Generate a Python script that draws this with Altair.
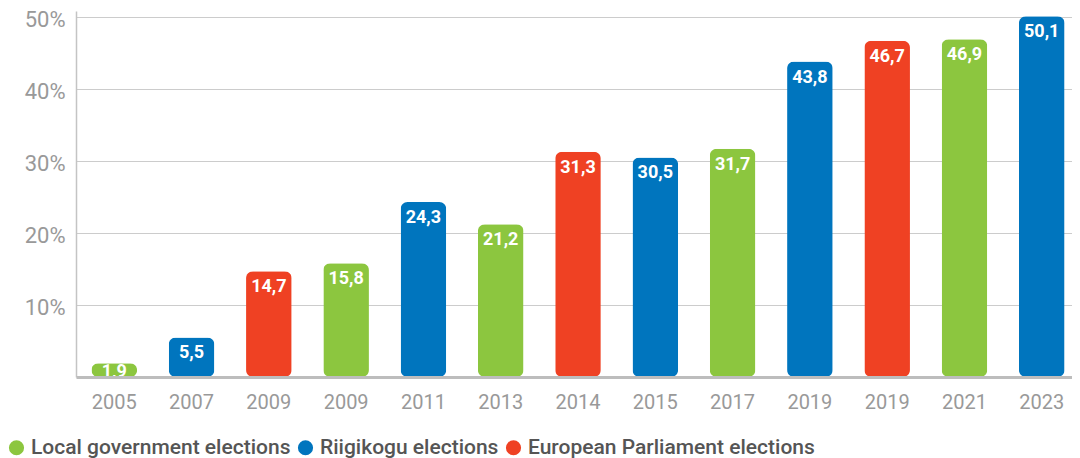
import altair as alt
import pandas as pd

years = ["2005", "2007", "2009", "2009", "2011", "2013", "2014", "2015", "2017", "2019", "2019", "2021", "2023"]
values = [1.9, 5.5, 14.7, 15.8, 24.3, 21.2, 31.3, 30.5, 31.7, 43.8, 46.7, 46.9, 50.1]
types = ["Local government elections", "Riigikogu elections", "European Parliament elections",
         "Local government elections", "Riigikogu elections", "Local government elections",
         "European Parliament elections", "Riigikogu elections", "Local government elections",
         "Riigikogu elections", "European Parliament elections", "Local government elections",
         "Riigikogu elections"]
type_order = ["Local government elections", "Riigikogu elections", "European Parliament elections"]
type_colors = ["#8CC63F", "#0075BE", "#EF4123"]
y_ticks = [10, 20, 30, 40, 50]

df = pd.DataFrame({
    "idx": list(range(len(years))),
    "year": years,
    "value": values,
    "type": types,
    "label": [f"{v}".replace(".", ",") for v in values],
})

label_expr = "[" + ",".join(f"'{y}'" for y in years) + "][datum.value]"

x_enc = alt.X("idx:O", sort=None,
              scale=alt.Scale(paddingInner=0.41, paddingOuter=0.2, range=[0, 1004]),
              axis=alt.Axis(title=None, labelExpr=label_expr, labelAngle=0, labelFont="Roboto",
                            labelFontSize=20, labelColor="#999999", labelPadding=15, ticks=False,
                            domainColor="#bdbdbd", domainWidth=3, zindex=1))

bars = alt.Chart(df).mark_bar(cornerRadius=7).encode(
    x=x_enc,
    y=alt.Y("value:Q", scale=alt.Scale(domain=[0, 50.83], nice=False, zero=True),
            axis=alt.Axis(title=None, values=y_ticks, labelExpr="datum.value + '%'",
                          labelFont="Roboto", labelFontSize=22, labelColor="#999999",
                          labelPadding=11, labelOffset=2.5, ticks=False, grid=True,
                          gridColor="#cccccc", gridWidth=1.2, domainColor="#c4c4c4",
                          domainWidth=1.5, zindex=0)),
    color=alt.Color("type:N", scale=alt.Scale(domain=type_order, range=type_colors),
                    legend=alt.Legend(title=None, orient="none", direction="horizontal",
                                      legendX=-70, legendY=426, symbolType="circle",
                                      symbolSize=230, symbolStrokeWidth=0, symbolOpacity=1,
                                      labelFont="Roboto", labelFontSize=21, labelFontWeight=500,
                                      labelColor="#555555", labelOffset=4, columnPadding=4,
                                      labelLimit=0, padding=0)),
)

text = alt.Chart(df).transform_calculate(
    ypos="max(datum.value, 2.9)"
).mark_text(baseline="alphabetic", dy=21, color="white", font="Roboto",
            fontSize=18, fontWeight="bold").encode(
    x=alt.X("idx:O", sort=None),
    y=alt.Y("ypos:Q"),
    text="label:N",
)

chart = alt.layer(bars, text).properties(
    width=996, height=366,
    autosize=alt.AutoSizeParams(type="none"),
    padding={"left": 68, "top": 3, "right": 0, "bottom": 81},
).configure_view(stroke=None)

chart.save("out.html", embed_options={"renderer": "svg", "actions": False})
